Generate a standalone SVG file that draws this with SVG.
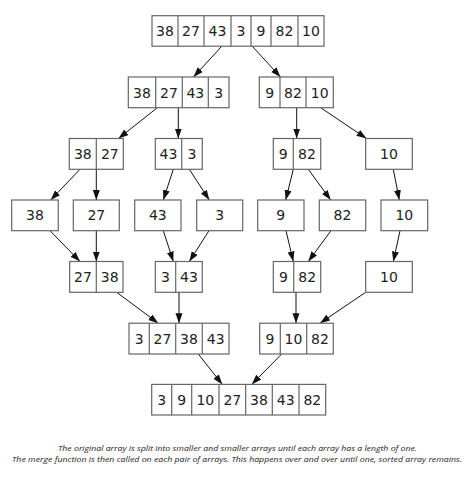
<svg xmlns="http://www.w3.org/2000/svg" width="474" height="498" viewBox="0 0 474 498">
<defs>
<marker id="ah" markerUnits="userSpaceOnUse" markerWidth="10" markerHeight="8" refX="10" refY="3.5" orient="auto">
<path d="M0,0 L10,3.5 L0,7 z" fill="#111"/>
</marker>
<style>
.b{fill:#fff;stroke:#666;stroke-width:1.2}
.d{stroke:#666;stroke-width:1.2}
.t{font-family:"DejaVu Sans",sans-serif;font-size:14px;fill:#222;text-anchor:middle}
.e{stroke:#111;stroke-width:1;fill:none;marker-end:url(#ah)}
.c{font-family:"Open Sans","Liberation Sans",sans-serif;font-style:italic;font-size:7.3px;fill:#222;text-anchor:middle}
</style>
</defs>
<rect width="474" height="498" fill="#fff"/>
<g id="edges">
<line class="e" x1="222" y1="46" x2="193.5" y2="77"/>
<line class="e" x1="252" y1="46" x2="280.5" y2="77"/>
<line class="e" x1="157.3" y1="107.7" x2="118.5" y2="138.5"/>
<line class="e" x1="178.3" y1="107.7" x2="178.3" y2="138.5"/>
<line class="e" x1="296.7" y1="107.7" x2="296.7" y2="138.5"/>
<line class="e" x1="320.7" y1="107.7" x2="366.5" y2="138.5"/>
<line class="e" x1="80" y1="169.3" x2="50.7" y2="200"/>
<line class="e" x1="96.3" y1="169.3" x2="96.3" y2="200"/>
<line class="e" x1="173.3" y1="169.3" x2="163.3" y2="200"/>
<line class="e" x1="189.3" y1="169.3" x2="209.3" y2="200"/>
<line class="e" x1="293.3" y1="169.3" x2="285.7" y2="200"/>
<line class="e" x1="308.3" y1="169.3" x2="330.7" y2="200"/>
<line class="e" x1="393.3" y1="169.3" x2="399.3" y2="200"/>
<line class="e" x1="50" y1="230.7" x2="80" y2="261.5"/>
<line class="e" x1="96.3" y1="230.7" x2="96.3" y2="261.5"/>
<line class="e" x1="163.3" y1="230.7" x2="173.3" y2="261.5"/>
<line class="e" x1="209" y1="230.7" x2="189.3" y2="261.5"/>
<line class="e" x1="286" y1="230.7" x2="293.3" y2="261.5"/>
<line class="e" x1="331" y1="230.7" x2="308.3" y2="261.5"/>
<line class="e" x1="400" y1="230.7" x2="393.3" y2="261.5"/>
<line class="e" x1="116.7" y1="292.3" x2="158.3" y2="323.2"/>
<line class="e" x1="179" y1="292.3" x2="179" y2="323.2"/>
<line class="e" x1="296" y1="292.3" x2="296" y2="323.2"/>
<line class="e" x1="365.7" y1="292.3" x2="320" y2="323.2"/>
<line class="e" x1="198.3" y1="354" x2="222.3" y2="384.4"/>
<line class="e" x1="281.7" y1="354" x2="251.7" y2="384.4"/>
</g>
<g id="n0">
<rect class="b" x="152" y="15.7" width="172" height="30.5"/>
<path class="d" d="M178,15.7V46.2M204,15.7V46.2M231,15.7V46.2M251,15.7V46.2M271,15.7V46.2M298,15.7V46.2"/>
<text class="t" y="36.1"><tspan x="165">38</tspan><tspan x="191">27</tspan><tspan x="217.5">43</tspan><tspan x="241">3</tspan><tspan x="261">9</tspan><tspan x="284.5">82</tspan><tspan x="311">10</tspan></text>
</g>
<g id="n1">
<rect class="b" x="128.3" y="77" width="100.7" height="30.7"/>
<path class="d" d="M155.7,77V107.7M182.3,77V107.7M208.3,77V107.7"/>
<text class="t" y="97.5"><tspan x="142">38</tspan><tspan x="169">27</tspan><tspan x="195.3">43</tspan><tspan x="218.7">3</tspan></text>
</g>
<g id="n2">
<rect class="b" x="259.3" y="77" width="74" height="30.7"/>
<path class="d" d="M280,77V107.7M306,77V107.7"/>
<text class="t" y="97.5"><tspan x="269.7">9</tspan><tspan x="293">82</tspan><tspan x="319.7">10</tspan></text>
</g>
<g id="n3">
<rect class="b" x="69.3" y="138.5" width="54" height="30.8"/>
<path class="d" d="M96.3,138.5V169.3"/>
<text class="t" y="159"><tspan x="82.8">38</tspan><tspan x="109.8">27</tspan></text>
</g>
<g id="n4">
<rect class="b" x="155.3" y="138.5" width="47" height="30.8"/>
<path class="d" d="M181.7,138.5V169.3"/>
<text class="t" y="159"><tspan x="168.5">43</tspan><tspan x="192">3</tspan></text>
</g>
<g id="n5">
<rect class="b" x="273.3" y="138.5" width="47.4" height="30.8"/>
<path class="d" d="M293.3,138.5V169.3"/>
<text class="t" y="159"><tspan x="283.3">9</tspan><tspan x="307">82</tspan></text>
</g>
<g id="n6">
<rect class="b" x="365.7" y="138.5" width="46.6" height="30.8"/>
<text class="t" x="389" y="159">10</text>
</g>
<g id="n7">
<rect class="b" x="11.7" y="200" width="46.6" height="30.7"/>
<text class="t" x="35" y="220.4">38</text>
</g>
<g id="n8">
<rect class="b" x="73.3" y="200" width="46" height="30.7"/>
<text class="t" x="96.3" y="220.4">27</text>
</g>
<g id="n9">
<rect class="b" x="134.7" y="200" width="46.3" height="30.7"/>
<text class="t" x="157.8" y="220.4">43</text>
</g>
<g id="n10">
<rect class="b" x="196.7" y="200" width="46" height="30.7"/>
<text class="t" x="219.7" y="220.4">3</text>
</g>
<g id="n11">
<rect class="b" x="257.7" y="200" width="46.3" height="30.7"/>
<text class="t" x="280.8" y="220.4">9</text>
</g>
<g id="n12">
<rect class="b" x="319.3" y="200" width="46.4" height="30.7"/>
<text class="t" x="342.5" y="220.4">82</text>
</g>
<g id="n13">
<rect class="b" x="381" y="200" width="46.7" height="30.7"/>
<text class="t" x="404.3" y="220.4">10</text>
</g>
<g id="n14">
<rect class="b" x="69.7" y="261.5" width="53.3" height="30.8"/>
<path class="d" d="M96.3,261.5V292.3"/>
<text class="t" y="282"><tspan x="83">27</tspan><tspan x="109.7">38</tspan></text>
</g>
<g id="n15">
<rect class="b" x="155.3" y="261.5" width="47" height="30.8"/>
<path class="d" d="M175.7,261.5V292.3"/>
<text class="t" y="282"><tspan x="165.5">3</tspan><tspan x="189">43</tspan></text>
</g>
<g id="n16">
<rect class="b" x="273.3" y="261.5" width="47.4" height="30.8"/>
<path class="d" d="M293.7,261.5V292.3"/>
<text class="t" y="282"><tspan x="283.5">9</tspan><tspan x="307.2">82</tspan></text>
</g>
<g id="n17">
<rect class="b" x="365.7" y="261.5" width="46.6" height="30.8"/>
<text class="t" x="389" y="282">10</text>
</g>
<g id="n18">
<rect class="b" x="129" y="323.2" width="100" height="30.8"/>
<path class="d" d="M149.3,323.2V354M175.7,323.2V354M202.3,323.2V354"/>
<text class="t" y="343.7"><tspan x="139.2">3</tspan><tspan x="162.5">27</tspan><tspan x="189">38</tspan><tspan x="215.7">43</tspan></text>
</g>
<g id="n19">
<rect class="b" x="259.7" y="323.2" width="73.6" height="30.8"/>
<path class="d" d="M280.3,323.2V354M306.7,323.2V354"/>
<text class="t" y="343.7"><tspan x="270">9</tspan><tspan x="293.5">10</tspan><tspan x="320">82</tspan></text>
</g>
<g id="n20">
<rect class="b" x="151.7" y="384.4" width="174" height="30.6"/>
<path class="d" d="M171.7,384.4V415M191.7,384.4V415M219,384.4V415M245.7,384.4V415M272.3,384.4V415M299,384.4V415"/>
<text class="t" y="404.8"><tspan x="161.7">3</tspan><tspan x="181.7">9</tspan><tspan x="205.3">10</tspan><tspan x="232.3">27</tspan><tspan x="259">38</tspan><tspan x="285.7">43</tspan><tspan x="312.3">82</tspan></text>
</g>
<text class="c" x="237.5" y="451.2" textLength="359" lengthAdjust="spacingAndGlyphs">The original array is split into smaller and smaller arrays until each array has a length of one.</text>
<text class="c" x="237" y="461.8" textLength="450" lengthAdjust="spacingAndGlyphs">The merge function is then called on each pair of arrays. This happens over and over until one, sorted array remains.</text>
</svg>
